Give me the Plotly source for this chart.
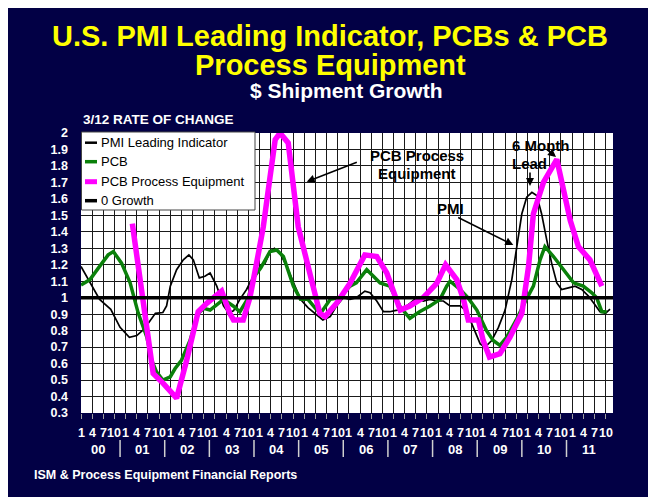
import plotly.graph_objects as go

# ---------------- data (x = month index, 0 = Jan 2000) ----------------
pmi_month = [0, 2.4, 5, 8, 10.5, 13, 15, 17, 18.5, 20, 22, 23, 24, 25.7, 27.5, 29, 30.2, 31.8, 33.3,
             34.7, 36.5, 38.3, 39.6, 41, 42.7, 44.5, 46.8, 48.6, 49.5, 50.8, 52, 53.5, 55.3, 57.1, 59,
             61, 63.4, 65, 67, 68.7, 70.5, 72.3, 74, 76.3, 77.7, 79.5, 81.3, 83, 85, 86.6, 88.4, 90.2,
             92, 93.8, 95.6, 97.4, 99.2, 102, 103.7, 105.5, 107.3, 108.6, 110.4, 112.2, 114, 115.8,
             117.1, 118.5, 119.8, 121.2, 122.5, 123.8, 125.2, 126.5, 127.9, 129.2, 131, 132.8, 134.6,
             136.4, 138.2, 139.5, 141, 142.2]
pmi_value = [1.19, 1.09, 0.99, 0.93, 0.82, 0.76, 0.77, 0.81, 0.86, 0.905, 0.91, 0.95, 1.07, 1.17, 1.23,
             1.26, 1.23, 1.12, 1.13, 1.15, 1.07, 0.95, 0.91, 0.92, 0.99, 1.05, 1.15, 1.20, 1.21, 1.28,
             1.30, 1.27, 1.19, 1.09, 0.99, 0.94, 0.895, 0.865, 0.885, 0.95, 1.0, 0.99, 1.0, 1.04, 1.03,
             0.98, 0.915, 0.915, 0.925, 0.935, 0.965, 1.0, 0.98, 0.99, 0.98, 0.98, 0.95, 0.95, 0.915,
             0.82, 0.72, 0.70, 0.74, 0.82, 0.925, 1.11, 1.31, 1.51, 1.61, 1.64, 1.62, 1.51, 1.35, 1.21,
             1.09, 1.05, 1.06, 1.07, 1.05, 1.01, 0.955, 0.915, 0.905, 0.93]

pcb_month = [0, 2.4, 5, 7.3, 8.7, 10.9, 13.2, 15.4, 17.7, 19, 20.3, 22, 24, 25.3, 27, 29.3, 31.5, 33,
             34.7, 36.5, 38.3, 40.9, 42.7, 45, 46.3, 48.3, 50.8, 52.6, 54.4, 57.1, 59, 61, 63.4, 64.7,
             67, 69.6, 72.3, 74, 76.8, 78.6, 80.4, 83, 85.8, 88.4, 91, 93.8, 96.5, 98.3, 99.2, 101.9,
             104, 106.4, 109, 110.8, 112.6, 114.4, 117, 119.4, 121.6, 123.4, 124.7, 127, 129.7, 132.4,
             135, 137.3, 138.6, 140, 141.3]
pcb_value = [1.077, 1.11, 1.19, 1.26, 1.28, 1.21, 1.09, 0.905, 0.76, 0.62, 0.55, 0.50, 0.52, 0.57, 0.62,
             0.74, 0.905, 0.935, 0.925, 0.955, 0.99, 0.95, 0.915, 1.0, 1.12, 1.18, 1.28, 1.29, 1.25, 1.07,
             0.99, 0.99, 0.925, 0.915, 0.99, 1.0, 1.07, 1.09, 1.17, 1.13, 1.09, 1.07, 0.945, 0.875, 0.915,
             0.95, 0.99, 1.07, 1.10, 1.05, 1.0, 0.925, 0.80, 0.74, 0.71, 0.76, 0.865, 0.976, 1.07, 1.23,
             1.31, 1.25, 1.17, 1.09, 1.07, 1.03, 1.0, 0.915, 0.915]

equip_month = [13.8, 19.4, 22.1, 25.7, 28.4, 31.5, 33.8, 36.5, 37.8, 40, 41, 43.6, 45.4, 47.2, 49, 50.8,
               52.2, 53.5, 55.7, 58.4, 61.1, 64.2, 65.6, 68.7, 72.3, 76.3, 79.5, 82.2, 85.8, 88.4, 92,
               95.6, 98, 101, 102.8, 104.1, 106.8, 108.1, 109.8, 112.6, 115.3, 118.5, 120.3, 121.6,
               124.3, 127.9, 131.5, 133.7, 136.8, 140]
equip_value = [1.45, 0.54, 0.48, 0.39, 0.62, 0.915, 0.966, 1.02, 1.04, 0.905, 0.865, 0.865, 1.0, 1.21,
               1.43, 1.73, 1.96, 2.0, 1.94, 1.43, 1.19, 0.905, 0.885, 0.966, 1.087, 1.26, 1.25, 1.15,
               0.925, 0.95, 1.0, 1.087, 1.2, 1.11, 0.99, 0.865, 0.865, 0.74, 0.64, 0.66, 0.76, 0.905,
               1.19, 1.51, 1.70, 1.84, 1.47, 1.31, 1.23, 1.07]

zero_month = [0, 143]
zero_value = [1, 1]

month_labels = ["1", "4", "7", "10"]
year_labels = ["00", "01", "02", "03", "04", "05", "06", "07", "08", "09", "10", "11"]
y_ticks = [round(0.3 + 0.1 * i, 1) for i in range(18)]
y_ticktext = [("%g" % v) for v in y_ticks]

series_names = ["PMI Leading Indicator", "PCB", "PCB Process Equipment", "0 Growth"]

# ---------------- layout geometry ----------------
W, H = 656, 497
L, R, T, B = 73, 51, 125, 92
PW, PH = W - L - R, H - T - B
NAVY = "#020045"
FONT = "Arial, Liberation Sans, sans-serif"


# helpers: page (screenshot) pixel -> paper coordinate
def px(x):
    return (x - 81) / PW


def py(y):
    return (413 - y) / PH


fig = go.Figure()
fig.add_trace(go.Scatter(x=pmi_month, y=pmi_value, mode="lines", name=series_names[0],
                         line=dict(color="#000000", width=1.7)))
fig.add_trace(go.Scatter(x=pcb_month, y=pcb_value, mode="lines", name=series_names[1],
                         line=dict(color="#0a800a", width=3.5)))
fig.add_trace(go.Scatter(x=equip_month, y=equip_value, mode="lines", name=series_names[2],
                         line=dict(color="#ff00ff", width=5.5)))
fig.add_trace(go.Scatter(x=zero_month, y=zero_value, mode="lines", name=series_names[3],
                         line=dict(color="#000000", width=3.5)))

shapes = []
annotations = []

# custom legend box
shapes.append(dict(type="rect", xref="paper", yref="paper", x0=px(81.5), x1=px(255), y0=py(132), y1=py(210),
                   fillcolor="white", line=dict(color="#444444", width=1), layer="above"))
leg_y = [142.7, 161.7, 181.7, 200.7]
leg_col = ["#000000", "#0a800a", "#ff00ff", "#000000"]
leg_w = [2.5, 3.5, 5, 3.5]
for name, yy, c, w in zip(series_names, leg_y, leg_col, leg_w):
    shapes.append(dict(type="line", xref="paper", yref="paper", x0=px(85), x1=px(97), y0=py(yy), y1=py(yy),
                       line=dict(color=c, width=w), layer="above"))
    annotations.append(dict(text=name, xref="paper", yref="paper", x=px(99), y=py(yy), xanchor="left",
                            yanchor="middle", showarrow=False, font=dict(family=FONT, size=13, color="black")))

# month and year labels along the x axis
for yi, yl in enumerate(year_labels):
    for mi, ml in enumerate(month_labels):
        annotations.append(dict(text=ml, xref="x", yref="paper", x=yi * 12 + mi * 3, y=py(433),
                                xanchor="center", yanchor="middle", showarrow=False,
                                font=dict(family=FONT, size=12.5, color="white", weight="bold")))
    annotations.append(dict(text=yl, xref="x", yref="paper", x=yi * 12 + 4.5, y=py(449),
                            xanchor="center", yanchor="middle", showarrow=False,
                            font=dict(family=FONT, size=13, color="white", weight="bold")))
    if yi < len(year_labels) - 1:
        shapes.append(dict(type="line", xref="x", yref="paper", x0=yi * 12 + 10.5, x1=yi * 12 + 10.5,
                           y0=py(440), y1=py(457), line=dict(color="#d0d0d0", width=1.5)))

# titles
annotations.append(dict(text="U.S. PMI Leading Indicator, PCBs & PCB", xref="paper", yref="paper",
                        x=px(330), y=py(36), xanchor="center", yanchor="middle", showarrow=False,
                        font=dict(family=FONT, size=29, color="#ffff00", weight="bold")))
annotations.append(dict(text="Process Equipment", xref="paper", yref="paper",
                        x=px(330), y=py(65), xanchor="center", yanchor="middle", showarrow=False,
                        font=dict(family=FONT, size=29, color="#ffff00", weight="bold")))
annotations.append(dict(text="$ Shipment Growth", xref="paper", yref="paper",
                        x=px(346), y=py(90), xanchor="center", yanchor="middle", showarrow=False,
                        font=dict(family=FONT, size=21, color="white", weight="bold")))
annotations.append(dict(text="3/12 RATE OF CHANGE", xref="paper", yref="paper",
                        x=px(81), y=py(120), xanchor="left", yanchor="middle", showarrow=False,
                        font=dict(family=FONT, size=13.5, color="white", weight="bold")))
annotations.append(dict(text="ISM & Process Equipment Financial Reports", xref="paper", yref="paper",
                        x=px(32), y=py(475), xanchor="left", yanchor="middle", showarrow=False,
                        font=dict(family=FONT, size=12.5, color="white", weight="bold")))

# in-chart callouts
cfont = dict(family=FONT, size=15, color="black", weight="bold")
annotations.append(dict(text="PCB Process", xref="paper", yref="paper", x=px(417), y=py(155),
                        xanchor="center", yanchor="middle", showarrow=False, font=cfont))
annotations.append(dict(text="Equipment", xref="paper", yref="paper", x=px(417), y=py(173),
                        xanchor="center", yanchor="middle", showarrow=False, font=cfont))
annotations.append(dict(text="6 Month", xref="paper", yref="paper", x=px(510), y=py(145),
                        xanchor="left", yanchor="middle", showarrow=False, font=cfont))
annotations.append(dict(text="Lead", xref="paper", yref="paper", x=px(510), y=py(163),
                        xanchor="left", yanchor="middle", showarrow=False, font=cfont))
annotations.append(dict(text="PMI", xref="paper", yref="paper", x=px(450), y=py(208),
                        xanchor="center", yanchor="middle", showarrow=False, font=cfont))

arrows = [((306.7, 181.7), (358.3, 161.7)),
          ((530, 186), (530, 171)),
          ((556, 157), (545, 148)),
          ((513.3, 245), (456.7, 216.7))]
for (hx, hy), (tx, ty) in arrows:
    annotations.append(dict(text="", xref="paper", yref="paper", x=px(hx), y=py(hy),
                            ax=tx - hx, ay=ty - hy, showarrow=True, arrowhead=2, arrowsize=1,
                            arrowwidth=1.6, arrowcolor="black"))

fig.update_layout(
    width=W, height=H,
    margin=dict(l=L, r=R, t=T, b=B, pad=0),
    paper_bgcolor=NAVY, plot_bgcolor="white",
    showlegend=False,
    shapes=shapes, annotations=annotations,
    font=dict(family=FONT),
    xaxis=dict(range=[0, 143], tickmode="linear", tick0=0, dtick=3, showgrid=True,
               gridcolor="#1a1a1a", gridwidth=1, zeroline=False, showline=False,
               ticks="outside", ticklen=5, tickcolor="#a0a0a0", showticklabels=False, fixedrange=True),
    yaxis=dict(range=[0.3, 2.0], tickmode="array", tickvals=y_ticks, ticktext=y_ticktext,
               showgrid=True, gridcolor="#1a1a1a", gridwidth=1, zeroline=False, showline=False,
               ticks="", ticklabelstandoff=12,
               tickfont=dict(family=FONT, size=12.5, color="white", weight="bold"), fixedrange=True),
)

fig.write_html("out.html")
